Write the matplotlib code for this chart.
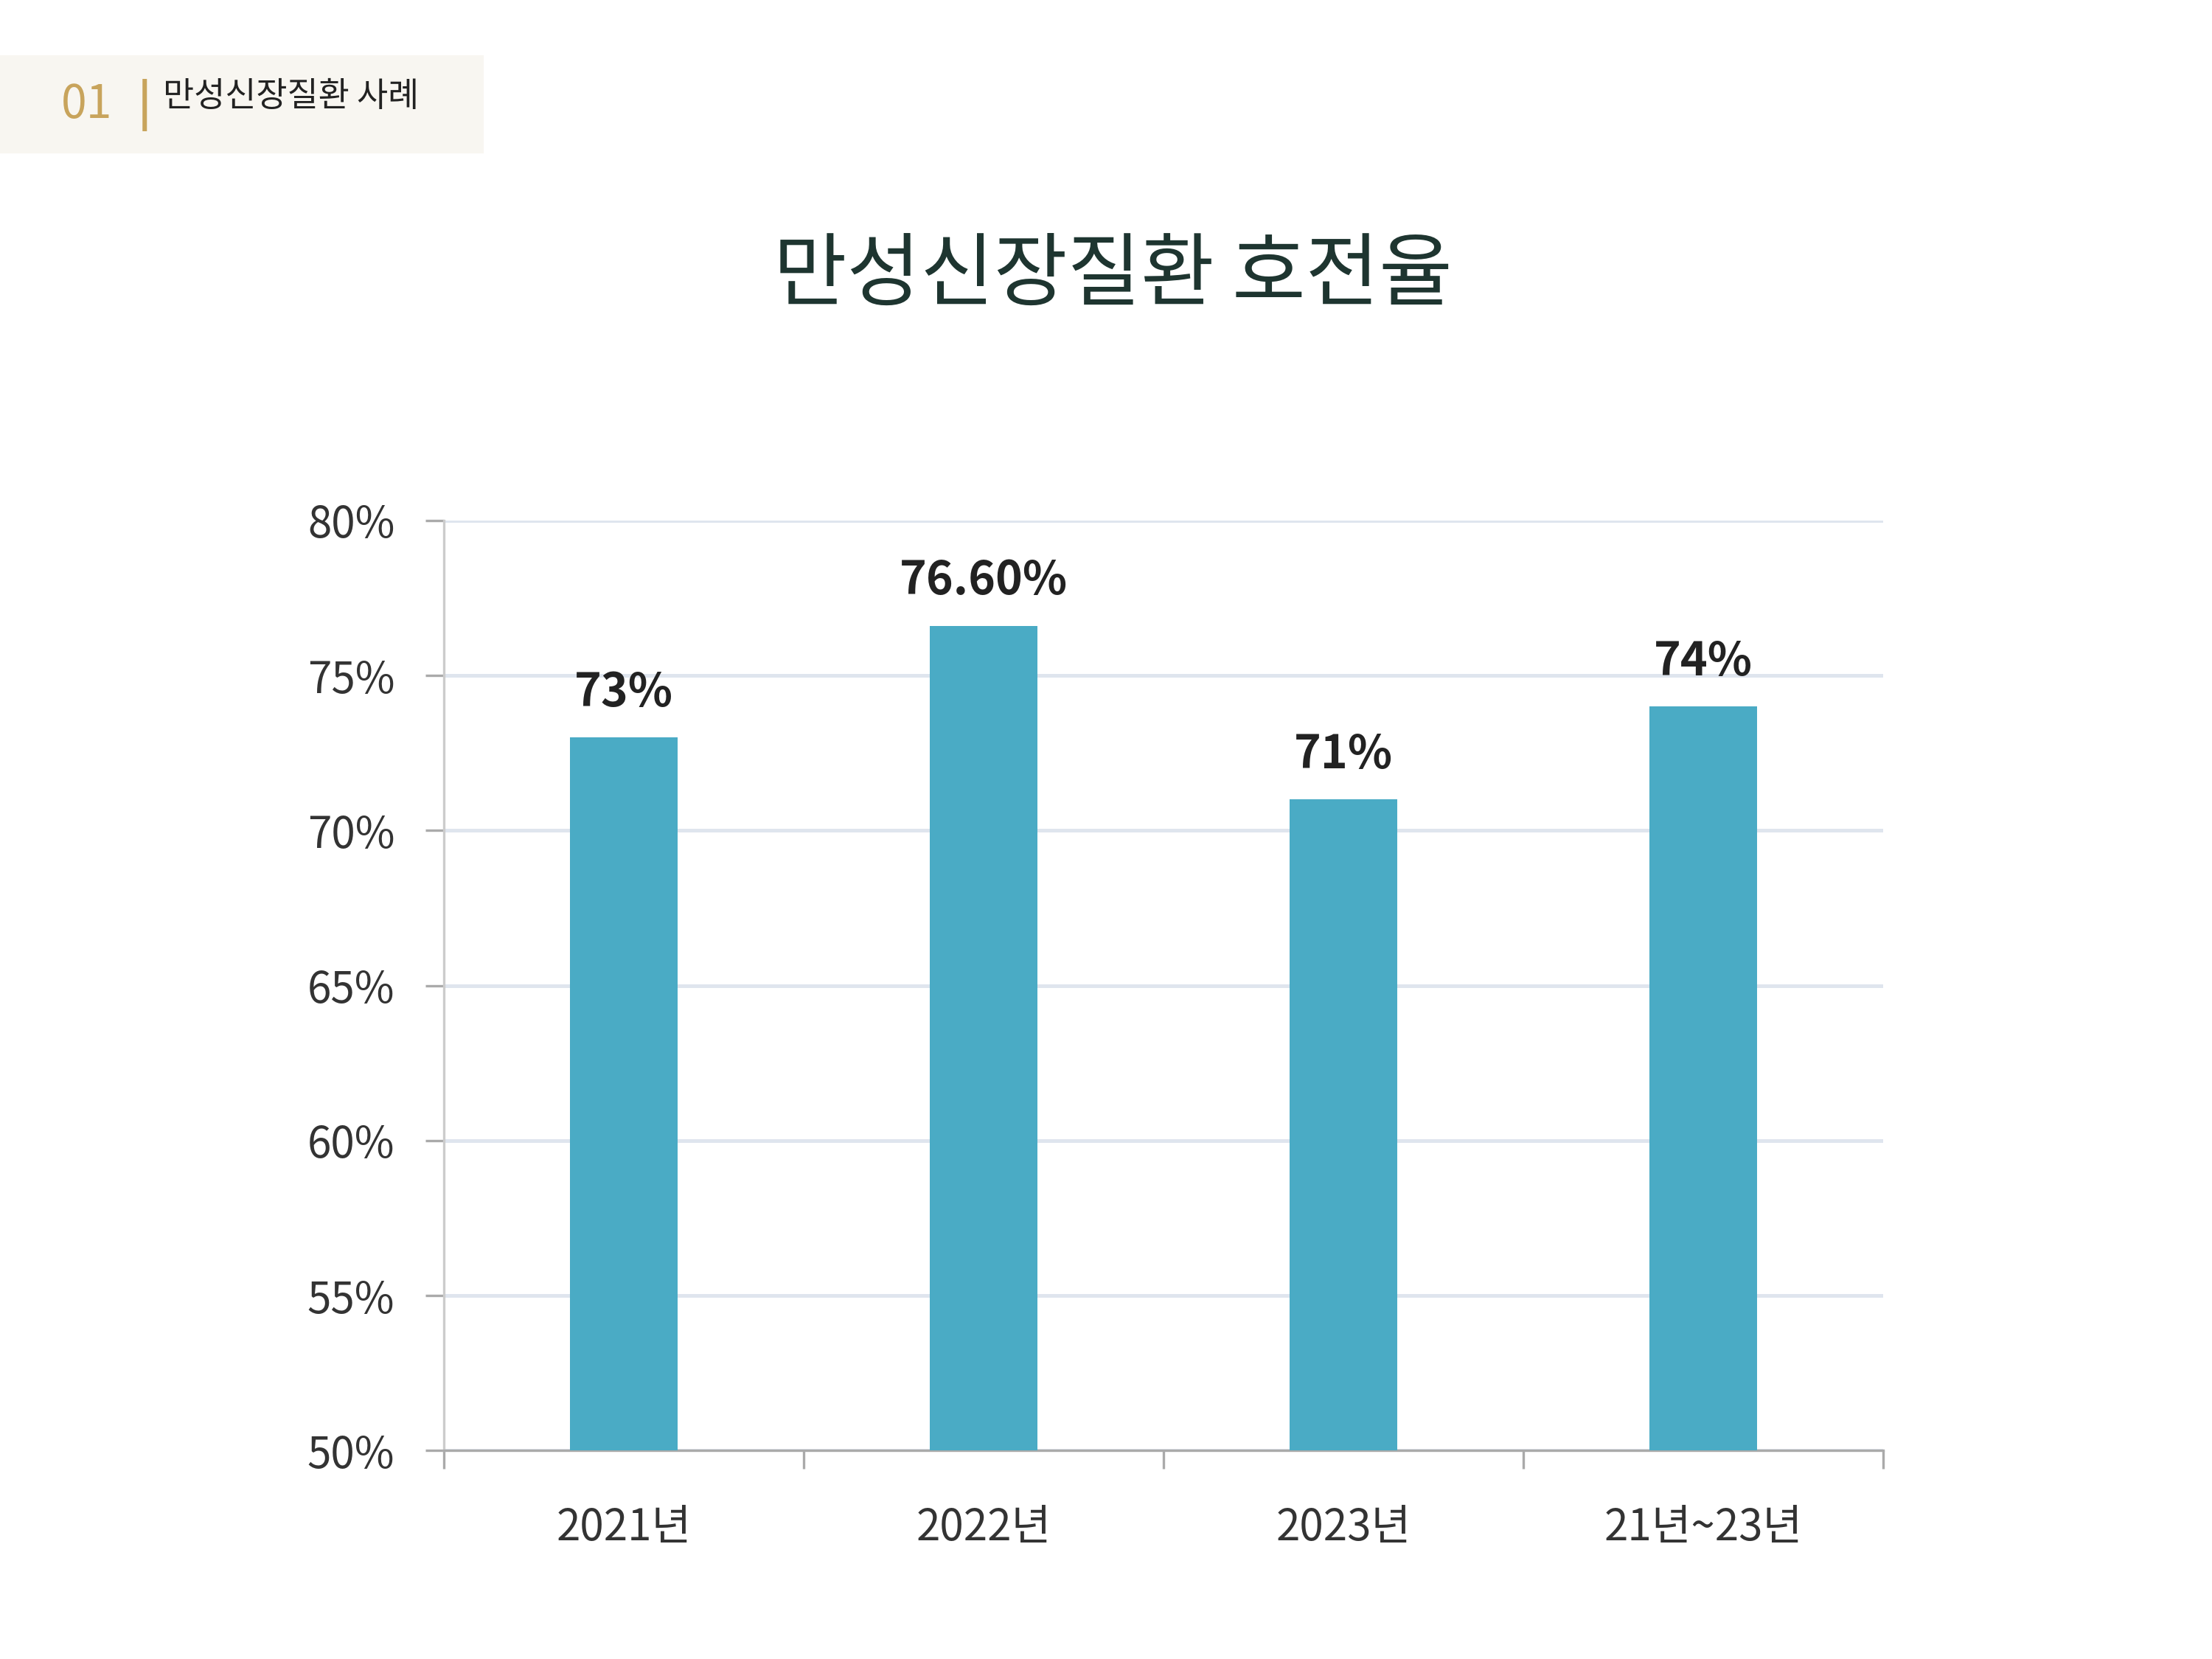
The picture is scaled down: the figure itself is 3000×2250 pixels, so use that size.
import matplotlib
matplotlib.use("Agg")
import matplotlib.pyplot as plt
from matplotlib.patches import Rectangle

plt.rcParams['font.family'] = ['Noto Sans CJK KR', 'DejaVu Sans']

categories = ["2021년", "2022년", "2023년", "21년~23년"]
values = [73, 76.6, 71, 74]
labels = ["73%", "76.60%", "71%", "74%"]
yticks = [50, 55, 60, 65, 70, 75, 80]

fig = plt.figure(figsize=(10, 7.5), dpi=300)
fig.patches.append(Rectangle((0, 1-107/1170), 340/1560, 67/1170, transform=fig.transFigure,
                             color="#f8f6f1", zorder=0))
fig.text(43/1560, 1-74/1170, "01", color="#c8a45c", fontsize=15, va="center", ha="left")
fig.text(97/1560, 1-74/1170, "|", color="#c8a45c", fontsize=15, va="center", ha="left", fontweight="bold")
fig.text(115/1560, 1-68/1170, "만성신장질환 사례", color="#222222", fontsize=11, va="center", ha="left")
fig.text(785/1560, 1-195/1170, "만성신장질환 호전율", color="#1e3530", fontsize=26, va="center", ha="center")

ax = fig.add_axes([313/1560, 1-1023/1170, (1328-313)/1560, (1023-367)/1170])
x = range(len(categories))
ax.bar(x, [v - 50 for v in values], bottom=50, width=0.30, color="#4aabc5", zorder=3)
for i, (v, l) in enumerate(zip(values, labels)):
    ax.text(i, v + 0.7, l, ha="center", va="bottom", fontsize=15, fontweight="bold", color="#222222")
ax.set_xlim(-0.5, 3.5)
ax.set_ylim(50, 80)
ax.set_yticks(yticks)
ax.set_yticklabels([f"{t}%" for t in yticks], fontsize=14, color="#333333")
ax.set_xticks([-0.5, 0.5, 1.5, 2.5, 3.5])
ax.set_xticklabels([])
ax.set_xticks(list(x), minor=True)
ax.set_xticklabels(categories, minor=True, fontsize=14, color="#333333")
ax.tick_params(axis="x", which="minor", length=0, pad=18)
ax.tick_params(axis="x", which="major", length=6, color="#aaaaaa")
ax.tick_params(axis="y", length=6, color="#aaaaaa", pad=10)
ax.grid(axis="y", color="#dfe5ee", linewidth=1.2, zorder=0)
for s in ["top", "right"]:
    ax.spines[s].set_visible(False)
ax.spines["left"].set_color("#cccccc")
ax.spines["bottom"].set_color("#aaaaaa")
fig.savefig("out.png", dpi=300, facecolor="white")
